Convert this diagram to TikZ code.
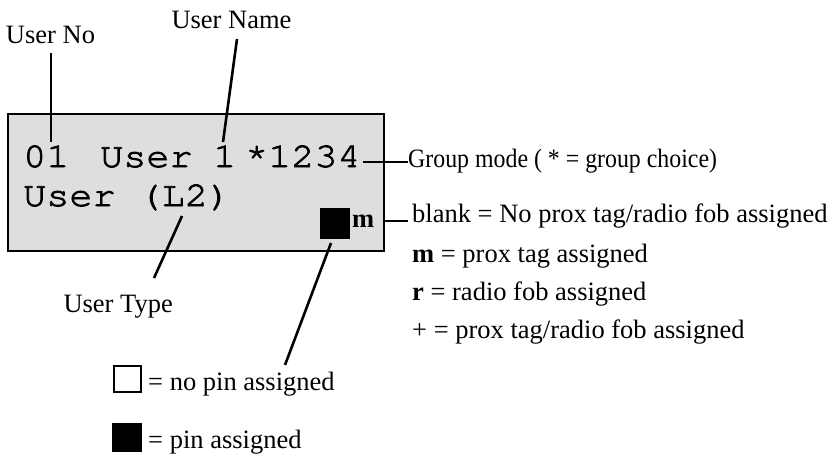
\documentclass[tikz,border=0pt]{standalone}
\usepackage{fontspec}
\setmainfont{Liberation Serif}
\newfontfamily\condserif[FakeStretch=0.9]{Liberation Serif}
\newfontfamily\lcd[FakeStretch=1.1,FakeBold=2.2]{TeX Gyre Cursor}
\definecolor{lcdgray}{RGB}{221,222,223}
\begin{document}
\begin{tikzpicture}[x=1pt,y=-1pt,
  lbl/.style={inner sep=0pt, font=\fontsize{26.5}{30}\selectfont},
  mono/.style={inner sep=0pt, anchor=base west, font=\lcd\fontsize{35}{40}\selectfont},
  lead/.style={line width=2.6pt},
  sq/.style={draw=black, line width=2.4pt, minimum width=27pt, minimum height=26pt, inner sep=0pt}
]
\useasboundingbox (0,0) rectangle (839,455);
% display box
\node[draw=black, line width=2.6pt, fill=lcdgray, minimum width=376pt, minimum height=137pt, inner sep=0pt] (box) at (196,182.5) {};
% display text
\node[mono] (n01) at (23,167) {01};
\node[mono] (nuser) at (100,167) {User};
\node[mono] (none) at (213,167) {1};
\node[mono] (nstar) at (245,167) {*};
\node[mono] (n1234) at (268,167) {1234};
\node[mono] (nl2) at (23,206) {User (L2)};
\node[fill=black, minimum width=30pt, minimum height=31pt, inner sep=0pt] (pinsq) at (335,223.5) {};
\node[lbl, anchor=base west, font=\fontsize{26.5}{30}\selectfont\bfseries] (mm) at (352,227) {m};
% top labels
\node[lbl, anchor=base] (uno) at (50.5,43) {User No};
\node[lbl, anchor=base] (uname) at (231.5,28) {User Name};
\node[lbl, anchor=base east] (utype) at (173,312) {User Type};
% right labels
\node[lbl, anchor=base west, font=\condserif\fontsize{26.5}{30}\selectfont] (grp) at (408,167) {Group mode ( * = group choice)};
\node[lbl, anchor=base west] (blank) at (412,222) {blank = No prox tag/radio fob assigned};
\node[lbl, anchor=base west] (mlab) at (412,262) {\textbf{m} = prox tag assigned};
\node[lbl, anchor=base west] (rlab) at (412,300) {\textbf{r} = radio fob assigned};
\node[lbl, anchor=base west] (plab) at (412,338) {+ = prox tag/radio fob assigned};
% legend
\node[sq] (wsq) at (127.5,379) {};
\node[lbl, anchor=base west] (nopin) at (148,390) {= no pin assigned};
\node[sq, fill=black] (bsq) at (127,437.5) {};
\node[lbl, anchor=base west] (pin) at (148,448) {= pin assigned};
% leader coordinates
\coordinate (unoA) at (51,53);
\coordinate (unoB) at (51,142);
\coordinate (unmA) at (237,39);
\coordinate (unmB) at (223,142);
\coordinate (utA) at (182,216);
\coordinate (utB) at (154,278);
\coordinate (pinA) at (331,243);
\coordinate (pinB) at (285,365);
\coordinate (grpA) at (363,162);
\coordinate (blA) at (384,221);
% leaders
\draw[lead] (unoA) -- (unoB);
\draw[lead] (unmA) -- (unmB);
\draw[lead] (utA) -- (utB);
\draw[lead] (pinA) -- (pinB);
\draw[lead] (grpA) -- (grpA -| grp.west);
\draw[lead] (blA) -- ([xshift=-4pt]blA -| blank.west);
\end{tikzpicture}
\end{document}
